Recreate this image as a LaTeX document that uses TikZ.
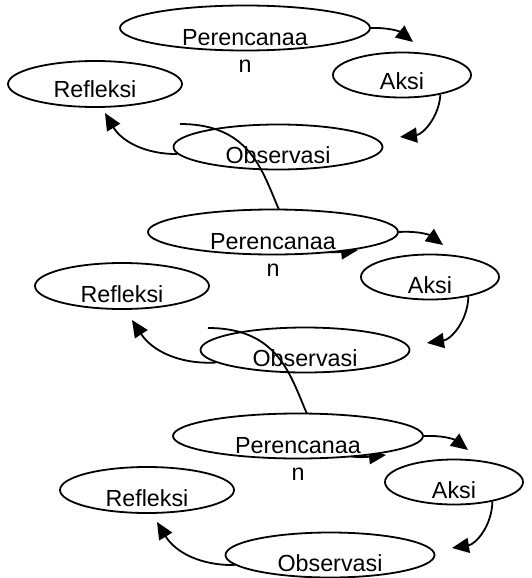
\documentclass[tikz,border=0pt]{standalone}
\usepackage{fontspec}
\setmainfont{Liberation Sans}
\usetikzlibrary{shapes.geometric,arrows.meta,backgrounds}

\begin{document}
\begin{tikzpicture}%
        [x=0.5pt, y=-0.5pt,
        oval/.style={ellipse, draw, line width=0.9pt, inner sep=0pt},
        plan/.style={oval, fill=white, minimum width=125pt, minimum height=22.5pt},
        aksi/.style={oval, minimum width=69pt, minimum height=22.5pt},
        refl/.style={oval, minimum width=87pt, minimum height=23pt},
        obsv/.style={oval, minimum width=104.5pt, minimum height=22.5pt},
        lbl/.style={inner sep=0pt, font=\fontsize{11.65}{13.5}\selectfont},
        flow/.style={line width=0.9pt, -{Triangle[length=8.5pt,width=7.5pt]}}]
    \useasboundingbox (0,0) rectangle (531,578);
    %
    %% First cycle
    \node[plan] (plan1) at (245,28) {};
    \node[aksi] (aksi1) at (402,75) {};
    \node[refl] (refl1) at (95,84) {};
    \node[obsv] (obsv1) at (278,147) {};
    \node[lbl, align=center] (plan1t) at ([yshift=-11.5pt]plan1.center) {Perencanaa\\n};
    \node[lbl, anchor=base] (aksi1t) at ([yshift=-7pt]aksi1.center) {Aksi};
    \node[lbl, anchor=base] (refl1t) at ([yshift=-6.5pt]refl1.center) {Refleksi};
    \node[lbl, anchor=base] (obsv1t) at ([yshift=-8pt]obsv1.center) {Observasi};
    \coordinate (tip1) at (413,42);
    \coordinate (tip2) at (400,137);
    \coordinate (tip3) at (105,113);
    \draw[flow] (plan1.east) to[bend left=20] (tip1);
    \draw[flow] (aksi1.-27) to[bend left=40] (tip2);
    \draw[flow] (obsv1.184) to[bend left=30] (tip3);
    %
    %% Second cycle
    \node[plan] (plan2) at (273,232) {};
    \node[aksi] (aksi2) at (430,277) {};
    \node[refl] (refl2) at (122,286) {};
    \node[obsv] (obsv2) at (305,350) {};
    \node[lbl, align=center] (plan2t) at ([yshift=-11.5pt]plan2.center) {Perencanaa\\n};
    \node[lbl, anchor=base] (aksi2t) at ([yshift=-8pt]aksi2.center) {Aksi};
    \node[lbl, anchor=base] (refl2t) at ([yshift=-8pt]refl2.center) {Refleksi};
    \node[lbl, anchor=base] (obsv2t) at ([yshift=-8pt]obsv2.center) {Observasi};
    \coordinate (tip4) at (443,245);
    \coordinate (tip5) at (427,343);
    \coordinate (tip6) at (132,320);
    \draw[flow] (plan2.east) to[bend left=20] (tip4);
    \draw[flow] (aksi2.-27) to[bend left=40] (tip5);
    \draw[flow] (obsv2.188) to[bend left=30] (tip6);
    %
    %% Third cycle
    \node[plan] (plan3) at (298,436) {};
    \node[aksi] (aksi3) at (454,482) {};
    \node[refl] (refl3) at (147,490) {};
    \node[obsv] (obsv3) at (330,555) {};
    \node[lbl, align=center] (plan3t) at ([yshift=-11.5pt]plan3.center) {Perencanaa\\n};
    \node[lbl, anchor=base] (aksi3t) at ([yshift=-8pt]aksi3.center) {Aksi};
    \node[lbl, anchor=base] (refl3t) at ([yshift=-8pt]refl3.center) {Refleksi};
    \node[lbl, anchor=base] (obsv3t) at ([yshift=-8pt]obsv3.center) {Observasi};
    \coordinate (tip7) at (468,450);
    \coordinate (tip8) at (452,548);
    \coordinate (tip9) at (157,522);
    \draw[flow] (plan3.east) to[bend left=20] (tip7);
    \draw[flow] (aksi3.-27) to[bend left=40] (tip8);
    \draw[flow] (obsv3.186) to[bend left=30] (tip9);
    %
    %% Links from one cycle to the next, behind the plan ovals
    \coordinate (link1) at (180,124);
    \coordinate (link1e) at (358,250);
    \coordinate (link2) at (208,328);
    \coordinate (link2e) at (386,455);
    \begin{scope}[on background layer]
    \draw[flow] (link1) .. controls (300,124) and (250,262) .. (link1e);
    \draw[flow] (link2) .. controls (328,328) and (278,466) .. (link2e);
    \end{scope}
    %%
\end{tikzpicture}
\end{document}
